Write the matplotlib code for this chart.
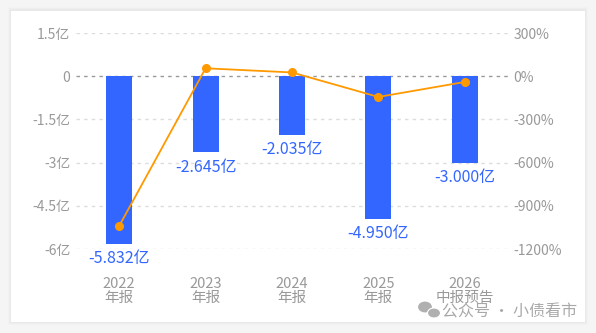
import numpy as np
import matplotlib.pyplot as plt
from matplotlib.patches import Rectangle, Ellipse

plt.rcParams['font.family'] = ['Noto Sans CJK SC', 'DejaVu Sans']

years = ['2022\n年报', '2023\n年报', '2024\n年报', '2025\n年报', '2026\n中报预告']
profit = [-5.832, -2.645, -2.035, -4.950, -3.000]      # 亿
growth = [-1040, 55, 26, -144, -40]                    # %
left_ticks = [1.5, 0, -1.5, -3, -4.5, -6]
left_labels = ['1.5亿', '0', '-1.5亿', '-3亿', '-4.5亿', '-6亿']
right_ticks = [300, 0, -300, -600, -900, -1200]
right_labels = ['300%', '0%', '-300%', '-600%', '-900%', '-1200%']

fig = plt.figure(figsize=(5.96, 3.33), dpi=100)
fig.patch.set_facecolor('#f5f5f5')

# card with soft shadow
W, H = 596, 333
for i, a in enumerate([0.012, 0.015, 0.02]):
    d = 3 - i
    fig.patches.append(Rectangle(((11 - d) / W, (11 - d) / H), (574 + 2 * d) / W, (312 + 2 * d) / H,
                                 transform=fig.transFigure, facecolor='black', alpha=a,
                                 edgecolor='none', zorder=-10))
fig.patches.append(Rectangle((11 / W, 11 / H), 574 / W, 311 / H, transform=fig.transFigure,
                             facecolor='white', edgecolor='none', zorder=-9))

ax = fig.add_axes([76 / W, 1 - 249 / H, 432 / W, 216 / H])
ax.set_facecolor('none')
x = np.arange(len(years))
bars = ax.bar(x, profit, width=0.3, color='#3366ff', zorder=3)
ax.set_xlim(-0.5, 4.5)
ax.set_ylim(-6, 1.5)
ax.set_yticks(left_ticks)
ax.set_yticklabels(left_labels)
ax.set_xticks(x)
ax.set_xticklabels(years, linespacing=1.0)
for s in ax.spines.values():
    s.set_visible(False)
ax.tick_params(length=0, labelsize=10, colors='#999999')
ax.tick_params(axis='x', labelsize=10.5, pad=20)
ax.tick_params(axis='y', pad=4)
for t in left_ticks:
    if t == 0:
        ax.axhline(t, color='#999999', lw=1, ls=(0, (2.5, 3)), zorder=2)
    else:
        ax.axhline(t, color='#dddddd', lw=1, ls=(0, (2.5, 3)), zorder=1)
for xi, v in zip(x, profit):
    ax.text(xi, v - 0.22, f'{v:.3f}亿', ha='center', va='top', fontsize=11.5, color='#3366ff')

ax2 = ax.twinx()
ax2.set_ylim(-1200, 300)
ax2.set_yticks(right_ticks)
ax2.set_yticklabels(right_labels)
for s in ax2.spines.values():
    s.set_visible(False)
ax2.tick_params(length=0, labelsize=10, colors='#999999', pad=4)
ax2.plot(x, growth, color='#ff9900', lw=1.3, marker='o', markersize=5.5, zorder=4)

# watermark
fig.patches.append(Ellipse((425 / W, 1 - 307 / H), 15 / W, 12 / H, transform=fig.transFigure,
                           facecolor='#b0b0b0', edgecolor='white', lw=0.8, zorder=5))
fig.patches.append(Ellipse((434 / W, 1 - 313 / H), 13 / W, 10 / H, transform=fig.transFigure,
                           facecolor='#b0b0b0', edgecolor='white', lw=0.8, zorder=5))
fig.text(577 / W, 1 - 312 / H, '公众号 · 小债看市', ha='right', va='center', fontsize=11.5, color='#a8a8a8')

fig.savefig('out.png', dpi=100, facecolor=fig.get_facecolor())
